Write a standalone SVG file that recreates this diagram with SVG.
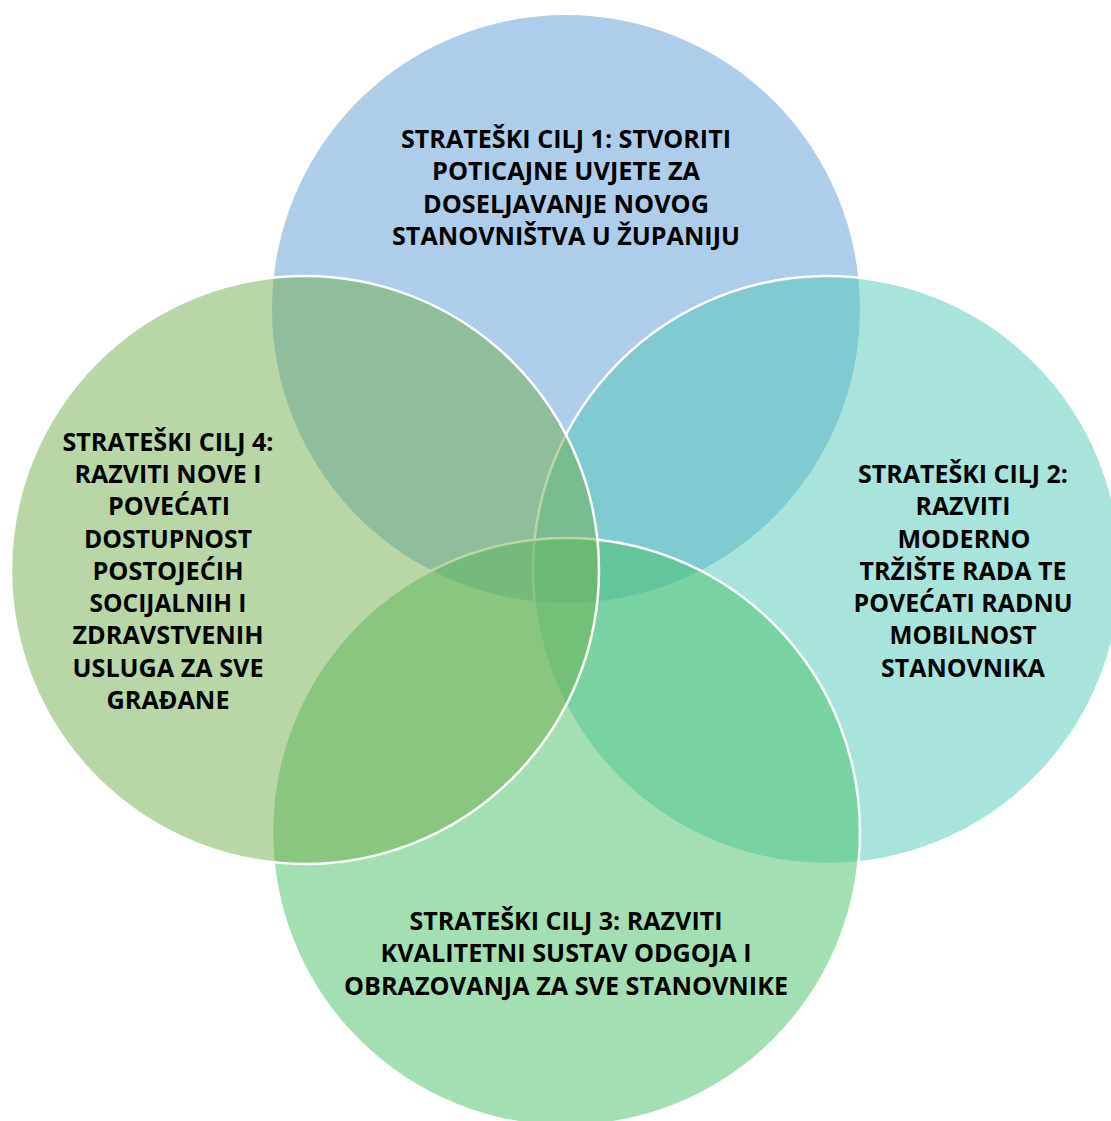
<svg xmlns="http://www.w3.org/2000/svg" width="1111" height="1121" viewBox="0 0 1111 1121">
<style>
.c{fill-opacity:0.5;stroke:#ffffff;stroke-width:2.5}
.t{font-family:"Open Sans","Liberation Sans",sans-serif;font-weight:700;font-size:25px;fill:#000000;text-anchor:middle}
</style>
<rect width="1111" height="1121" fill="#ffffff"/>
<g id="goal1">
<circle cx="566" cy="309" r="294" fill="#5d9bd5" fill-opacity="0.5" stroke="none"/>
</g>
<g id="goal2">
<circle class="c" cx="827" cy="570" r="294" fill="#51c9b9"/>
</g>
<g id="goal3">
<circle class="c" cx="566" cy="832" r="294" fill="#47bf67"/>
</g>
<g id="goal4">
<circle class="c" cx="305" cy="570" r="294" fill="#71ad4d"/>
</g>
<g id="labels">
<g id="label1">
<text class="t" x="566" y="147.5" textLength="330" lengthAdjust="spacingAndGlyphs">STRATEŠKI CILJ 1: STVORITI</text>
<text class="t" x="566" y="180" textLength="268" lengthAdjust="spacingAndGlyphs">POTICAJNE UVJETE ZA</text>
<text class="t" x="566" y="212.5" textLength="286" lengthAdjust="spacingAndGlyphs">DOSELJAVANJE NOVOG</text>
<text class="t" x="566" y="245" textLength="348" lengthAdjust="spacingAndGlyphs">STANOVNIŠTVA U ŽUPANIJU</text>
</g>
<g id="label2">
<text class="t" x="963" y="482.5" textLength="210" lengthAdjust="spacingAndGlyphs">STRATEŠKI CILJ 2:</text>
<text class="t" x="963" y="515" textLength="95" lengthAdjust="spacingAndGlyphs">RAZVITI</text>
<text class="t" x="964" y="547.5" textLength="133" lengthAdjust="spacingAndGlyphs">MODERNO</text>
<text class="t" x="963" y="579.5" textLength="207" lengthAdjust="spacingAndGlyphs">TRŽIŠTE RADA TE</text>
<text class="t" x="963" y="611.5" textLength="219" lengthAdjust="spacingAndGlyphs">POVEĆATI RADNU</text>
<text class="t" x="963" y="644" textLength="147" lengthAdjust="spacingAndGlyphs">MOBILNOST</text>
<text class="t" x="963" y="676.5" textLength="164" lengthAdjust="spacingAndGlyphs">STANOVNIKA</text>
</g>
<g id="label3">
<text class="t" x="566" y="929.5" textLength="313" lengthAdjust="spacingAndGlyphs">STRATEŠKI CILJ 3: RAZVITI</text>
<text class="t" x="566" y="962" textLength="371" lengthAdjust="spacingAndGlyphs">KVALITETNI SUSTAV ODGOJA I</text>
<text class="t" x="566" y="994.5" textLength="444" lengthAdjust="spacingAndGlyphs">OBRAZOVANJA ZA SVE STANOVNIKE</text>
</g>
<g id="label4">
<text class="t" x="168" y="450.5" textLength="211" lengthAdjust="spacingAndGlyphs">STRATEŠKI CILJ 4:</text>
<text class="t" x="168" y="482.5" textLength="187" lengthAdjust="spacingAndGlyphs">RAZVITI NOVE I</text>
<text class="t" x="169" y="515" textLength="122" lengthAdjust="spacingAndGlyphs">POVEĆATI</text>
<text class="t" x="168" y="547.5" textLength="168" lengthAdjust="spacingAndGlyphs">DOSTUPNOST</text>
<text class="t" x="168" y="579.5" textLength="151" lengthAdjust="spacingAndGlyphs">POSTOJEĆIH</text>
<text class="t" x="168" y="611.5" textLength="157" lengthAdjust="spacingAndGlyphs">SOCIJALNIH I</text>
<text class="t" x="168" y="644" textLength="191" lengthAdjust="spacingAndGlyphs">ZDRAVSTVENIH</text>
<text class="t" x="168" y="676.5" textLength="191" lengthAdjust="spacingAndGlyphs">USLUGA ZA SVE</text>
<text class="t" x="168" y="708.5" textLength="123" lengthAdjust="spacingAndGlyphs">GRAĐANE</text>
</g>
</g>
</svg>
